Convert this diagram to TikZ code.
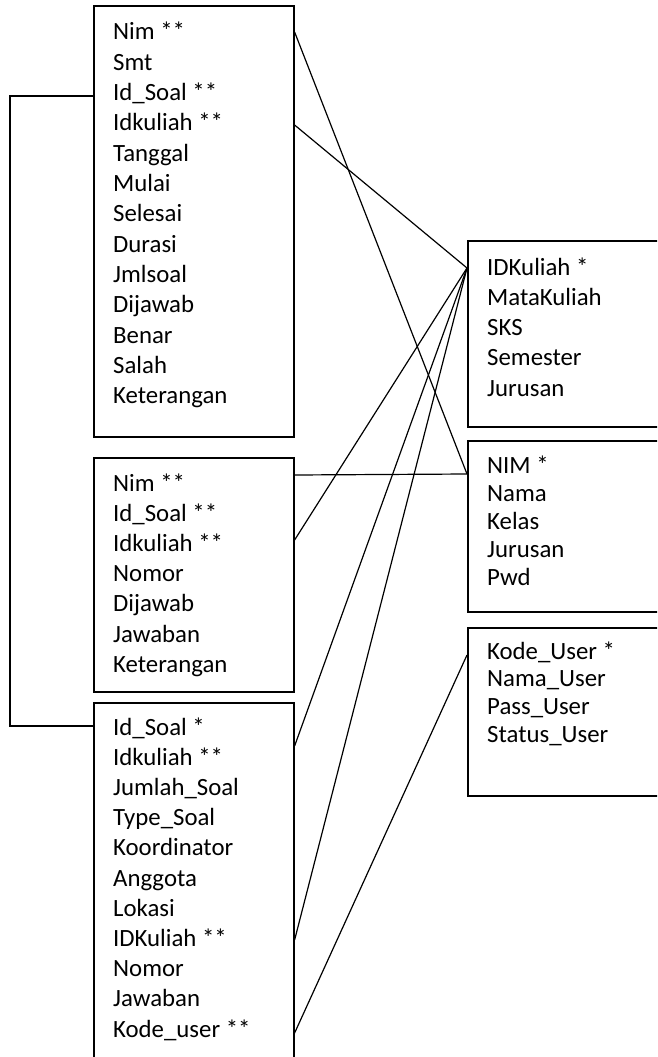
\documentclass[tikz,border=0pt]{standalone}
\usepackage{fontspec}
\setmainfont{Carlito}
\begin{document}
\begin{tikzpicture}[x=1pt,y=-1pt,
  box/.style={draw, line width=1.6pt, rectangle, inner sep=0pt, anchor=north west},
  attr/.style={anchor=base west, inner sep=0pt, font=\fontsize{24.8}{28}\selectfont},
  link/.style={line width=1.2pt}]
\clip (0,0) rectangle (657,1057);
% tables
\node[box, minimum width=200pt, minimum height=431pt] (t1) at (93,5) {};
\node[box, minimum width=200pt, minimum height=234pt] (t2) at (93,457) {};
\node[box, minimum width=200pt, minimum height=380pt] (t3) at (93,702) {};
\node[box, minimum width=220pt, minimum height=186pt] (mk) at (467,240) {};
\node[box, minimum width=220pt, minimum height=171pt] (mh) at (467,440) {};
\node[box, minimum width=220pt, minimum height=168pt] (us) at (467,627) {};
% attributes
\foreach \t [count=\i] in {Nim **, Smt, Id\_Soal **, Idkuliah **, Tanggal, Mulai, Selesai, Durasi, Jmlsoal, Dijawab, Benar, Salah, Keterangan}
  \node[attr] (t1-\i) at (113,{40+(\i-1)*30.33}) {\t};
\foreach \t [count=\i] in {Nim **, Id\_Soal **, Idkuliah **, Nomor, Dijawab, Jawaban, Keterangan}
  \node[attr] (t2-\i) at (113,{491+(\i-1)*30.2}) {\t};
\foreach \t [count=\i] in {Id\_Soal *, Idkuliah **, Jumlah\_Soal, Type\_Soal, Koordinator, Anggota, Lokasi, IDKuliah **, Nomor, Jawaban, Kode\_user **}
  \node[attr] (t3-\i) at (113,{735+(\i-1)*30.2}) {\t};
\foreach \t [count=\i] in {IDKuliah *, MataKuliah, SKS, Semester, Jurusan}
  \node[attr] (mk-\i) at (487,{275+(\i-1)*30.25}) {\t};
\foreach \t [count=\i] in {NIM *, Nama, Kelas, Jurusan, Pwd}
  \node[attr] (mh-\i) at (487,{473+(\i-1)*28}) {\t};
\foreach \t [count=\i] in {Kode\_User *, Nama\_User, Pass\_User, Status\_User}
  \node[attr] (us-\i) at (487,{659+(\i-1)*27.7}) {\t};
% ports
\coordinate (t1nim) at (t1.east |- 0,32);
\coordinate (t1kul) at (t1.east |- 0,125);
\coordinate (t1soal) at (t1.west |- 0,96);
\coordinate (t2nim) at (t2.east |- 0,475);
\coordinate (t2kul) at (t2.east |- 0,540);
\coordinate (t3soal) at (t3.west |- 0,726);
\coordinate (t3kul) at (t3.east |- 0,746);
\coordinate (t3kul2) at (t3.east |- 0,940);
\coordinate (t3user) at (t3.east |- 0,1033);
\coordinate (mkid) at (mk.west |- 0,268);
\coordinate (mhid) at (mh.west |- 0,474);
\coordinate (usid) at (us.west |- 0,655);
\coordinate (bend) at (10,96);
% connectors
\draw[link] (t1soal) -- (bend) |- (t3soal);
\draw[link] (t1nim) -- (mhid);
\draw[link] (t1kul) -- (mkid);
\draw[link] (t2nim) -- (mhid);
\draw[link] (t2kul) -- (mkid);
\draw[link] (t3kul) -- (mkid);
\draw[link] (t3kul2) -- (mkid);
\draw[link] (t3user) -- (usid);
\end{tikzpicture}
\end{document}
